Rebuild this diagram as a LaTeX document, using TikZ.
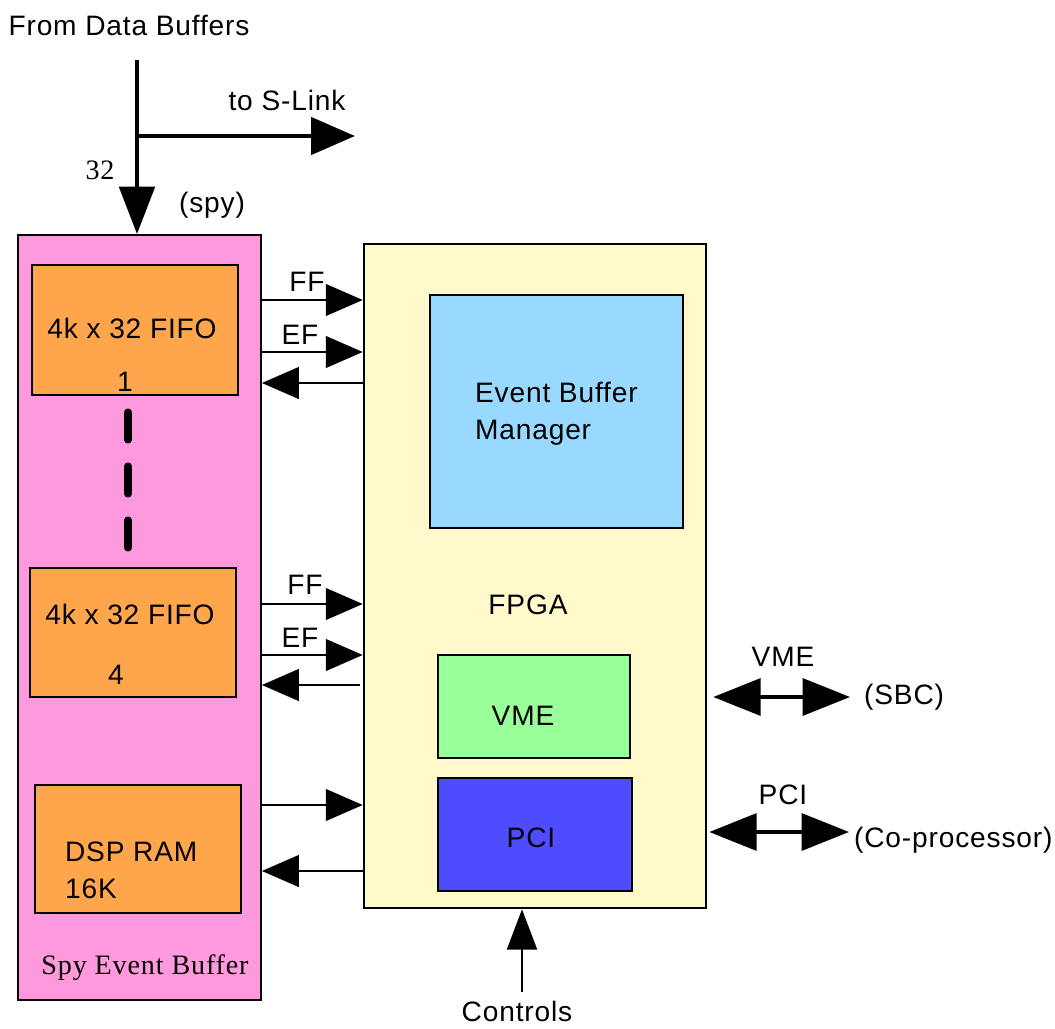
\documentclass[tikz,border=0pt]{standalone}
\usepackage{fontspec}
\setmainfont[LetterSpace=3]{Liberation Sans}
\newfontfamily\timesfont[LetterSpace=3]{Liberation Serif}
\usetikzlibrary{arrows.meta}
\usetikzlibrary{positioning}
\tikzset{blk/.style = {draw, line width=1.5pt, inner sep=0}}
\tikzset{lbl/.style = {inner sep=1pt, font=\fontsize{16}{21}\selectfont}}
\tikzset{sig/.style = {line width=1.3pt, -{Triangle[length=21pt, width=18pt]}}}
\tikzset{fat/.style = {line width=2.8pt, -{Triangle[length=27pt, width=20pt]}}}
\tikzset{dbl/.style = {line width=2.2pt, {Triangle[length=27pt, width=21pt]}-{Triangle[length=27pt, width=21pt]}}}
\definecolor{spypink}{HTML}{FF99DD}
\definecolor{fifoorange}{HTML}{FFA64D}
\definecolor{fpgayellow}{HTML}{FFF9CC}
\definecolor{ebmblue}{HTML}{99D9FF}
\definecolor{vmegreen}{HTML}{99FF99}
\definecolor{pciblue}{HTML}{4D4DFF}

\begin{document}
\begin{tikzpicture}[x=0.02cm, y=-0.02cm]
    \useasboundingbox (0, 0) rectangle (1055, 1028);

    % spy event buffer
    \node (seb) [blk, line width=1.1pt, fill=spypink, minimum width=4.86cm, minimum height=15.3cm] at (139.5, 617.5) {};
    \node (fifoA) [blk, fill=fifoorange, minimum width=4.12cm, minimum height=2.6cm] at (135, 330) {};
    \node (fifoD) [blk, fill=fifoorange, minimum width=4.12cm, minimum height=2.58cm] at (133, 632.5) {};
    \node (dspram) [blk, fill=fifoorange, minimum width=4.12cm, minimum height=2.56cm] at (138, 849) {};
    \node [lbl] at (132, 328) {4k x 32 FIFO};
    \node [lbl] at (125, 382) {1};
    \node [lbl] at (130, 614) {4k x 32 FIFO};
    \node [lbl] at (116, 675) {4};
    \node [lbl, align=left, anchor=west] at (63, 870) {DSP RAM\\16K};
    \node [lbl, font=\timesfont\fontsize{16}{21}\selectfont] at (145, 968) {Spy Event Buffer};
    \foreach \y in {412, 466, 520}
      \draw [line width=4pt, line cap=round] (128, \y) -- +(0, 28);

    % fpga
    \node (fpga) [blk, fill=fpgayellow, minimum width=6.84cm, minimum height=13.28cm] at (535, 576) {};
    \node (ebm) [blk, fill=ebmblue, minimum width=5.06cm, minimum height=4.66cm] at (556.5, 411.5) {};
    \node (vme) [blk, fill=vmegreen, minimum width=3.84cm, minimum height=2.06cm] at (534, 706.5) {};
    \node (pci) [blk, fill=pciblue, minimum width=3.88cm, minimum height=2.26cm] at (535, 834.5) {};
    \node [lbl, align=left, anchor=west] at (473, 414) {Event Buffer\\Manager};
    \node [lbl] at (528, 605) {FPGA};
    \node [lbl] at (523, 716) {VME};
    \node [lbl] at (531, 838) {PCI};

    % input from data buffers
    \node (src) [lbl] at (129, 25) {From Data Buffers};
    \coordinate (top) at (137, 60);
    \coordinate (split) at (137, 136);
    \coordinate (slink) at (355, 136);
    \draw [line width=2.8pt] (top) -- (split);
    \draw [fat] (split) -- (seb.north -| split);
    \draw [fat, -{Triangle[length=25pt, width=21pt]}] (split) -- (slink);
    \node [lbl] at (287, 100) {to S-Link};
    \node [lbl, font=\timesfont\fontsize{16}{21}\selectfont] at (100, 170) {32};
    \node [lbl] at (212, 205) {(spy)};

    % flags and data between the two boards
    \draw [sig] (seb.east |- 0, 300) -- (fpga.west |- 0, 300);
    \draw [sig] (seb.east |- 0, 352) -- (fpga.west |- 0, 352);
    \draw [sig] (fpga.west |- 0, 383) -- (seb.east |- 0, 383);
    \node [lbl] at (307, 282) {FF};
    \node [lbl] at (300, 335) {EF};
    \draw [sig] (seb.east |- 0, 604) -- (fpga.west |- 0, 604);
    \draw [sig] (seb.east |- 0, 655) -- (fpga.west |- 0, 655);
    \draw [sig] ([xshift=-0.06cm]fpga.west |- 0, 685) -- (seb.east |- 0, 685);
    \node [lbl] at (305, 585) {FF};
    \node [lbl] at (300, 638) {EF};
    \draw [sig] (seb.east |- 0, 805) -- (fpga.west |- 0, 805);
    \draw [sig] (fpga.west |- 0, 871) -- (seb.east |- 0, 871);

    % external buses
    \node (sbc) [lbl, anchor=west] at (862, 697) {(SBC)};
    \node (copro) [lbl, anchor=west] at (852, 840) {(Co-processor)};
    \draw [dbl] ([xshift=0.12cm]fpga.east |- sbc) -- ([xshift=-0.24cm]sbc.west);
    \draw [dbl] ([xshift=0.04cm]fpga.east |- 0, 832) -- ([xshift=-0.06cm]copro.west |- 0, 832);
    \node [lbl] at (783, 657) {VME};
    \node [lbl] at (783, 795) {PCI};

    % controls
    \node (ctrl) [lbl] at (517, 1011) {Controls};
    \coordinate (ctrlin) at (522, 992);
    \draw [line width=1.6pt, -{Triangle[length=23pt, width=17pt]}] (ctrlin) -- (fpga.south -| ctrlin);
  \end{tikzpicture}
\end{document}
